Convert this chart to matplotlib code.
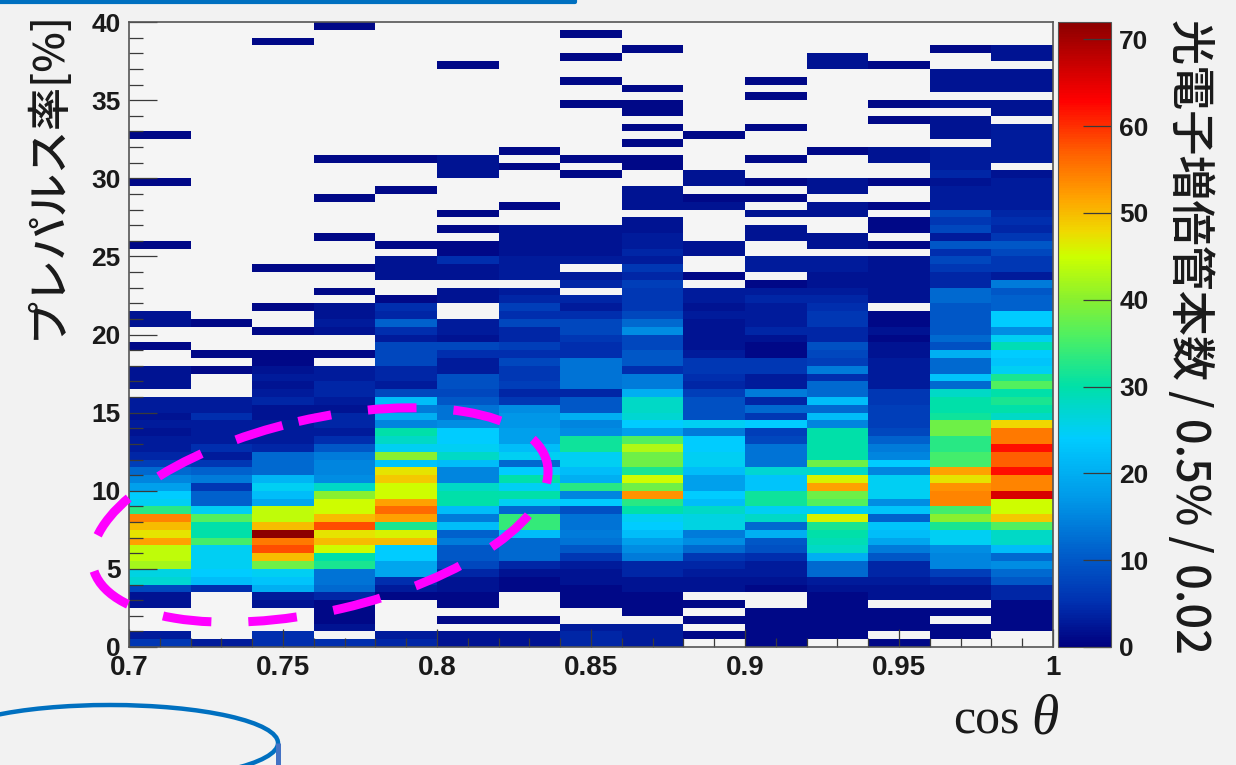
import numpy as np
import matplotlib
matplotlib.use('Agg')
import matplotlib.pyplot as plt
from matplotlib.colors import LinearSegmentedColormap
from matplotlib.patches import Ellipse
from matplotlib.ticker import MultipleLocator

# bin edges of the histogram
x_edges = np.linspace(0.7, 1.0, 16)
y_edges = np.linspace(0, 40, 81)

# counts per cos(theta) column, listed from the top row (40%) down to 0%
col_070 = [0,0,0,0,0,0,0,0,0,0, 0,0,0,0,1,0,0,0,0,0, 1,0,0,0,0,0,0,0,1,0, 0,0,0,0,0,0,0,2,2,0,
           0,1,0,0,2,2,2,0,3,3, 2,3,2,3,3,4,7,12,15,18, 24,25,33,54,50,47,52,44,44,42, 26,27,8,2,2,0,0,0,3,6]
col_072 = [0,0,0,0,0,0,0,0,0,0, 0,0,0,0,0,0,0,0,0,0, 0,0,0,0,0,0,0,0,0,0, 0,0,0,0,0,0,0,0,1,0,
           0,0,1,0,1,0,0,0,3,3, 5,3,3,3,5,3,6,11,14,6, 11,11,25,36,30,30,35,25,25,25, 24,22,5,0,0,0,0,0,0,3]
col_074 = [0,0,1,0,0,0,0,0,0,0, 0,0,0,0,0,0,0,0,0,0, 0,0,0,0,0,0,0,0,0,0, 0,1,0,0,0,0,1,0,0,1,
           0,0,1,1,2,3,2,3,4,2, 2,3,3,3,4,12,12,12,21,25, 22,19,44,44,50,72,55,58,50,38, 25,23,20,3,2,0,0,0,5,5]
col_076 = [1,0,0,0,0,0,0,0,0,0, 0,0,0,0,0,0,0,1,0,0, 0,0,1,0,0,0,0,1,0,0, 0,1,0,0,1,0,2,2,3,2,
           0,0,1,0,3,3,4,4,3,2, 4,4,3,5,10,14,15,15,16,28, 40,45,45,50,58,47,50,45,30,32, 13,13,12,4,1,1,1,2,0,5]
col_078 = [0,0,0,0,0,0,0,0,0,0, 0,0,0,0,0,0,0,1,0,0, 0,1,0,0,0,0,0,0,1,0, 2,2,2,0,0,1,5,4,11,5,
           3,8,8,8,4,4,3,8,22,14, 20,15,30,28,25,40,23,47,49,45, 45,52,56,52,32,46,50,24,24,19, 19,5,3,1,0,0,0,0,3,4]
col_080 = [0,0,0,0,0,1,0,0,0,0, 0,0,0,0,0,0,0,2,2,2, 0,0,0,0,1,0,1,0,1,1, 5,2,2,0,2,2,0,0,3,3,
           2,8,5,3,3,9,9,8,10,13, 13,16,24,24,25,28,22,15,15,28, 30,30,22,14,22,11,14,10,10,8, 4,2,2,1,1,0,1,0,2,2]
col_082 = [0,0,0,0,0,0,0,0,0,0, 0,0,0,0,0,0,1,0,1,0, 0,0,0,1,0,0,2,2,2,2, 3,3,3,0,3,4,7,5,8,4,
           4,7,5,8,6,6,7,4,6,16, 17,17,18,18,22,25,12,24,30,25, 30,25,12,34,34,22,12,12,12,4, 2,1,1,0,0,0,1,0,2,2]
col_084 = [0,1,0,0,1,0,0,1,0,0, 1,0,0,0,0,0,0,1,0,1, 0,0,0,0,0,0,2,2,2,2, 3,0,3,4,0,4,3,5,8,8,
           6,5,5,13,13,13,13,4,10,10, 20,15,16,31,31,25,25,22,20,33, 15,24,9,13,13,14,13,10,6,3, 2,2,1,1,1,0,0,3,4,4]
col_086 = [0,0,0,1,0,0,0,0,1,0, 1,1,0,1,0,1,0,1,1,0, 0,2,2,2,0,2,2,3,3,4, 3,6,4,7,6,6,6,8,12,16,
           8,8,10,10,5,14,14,20,28,28, 27,24,18,36,43,38,38,32,45,38, 53,33,30,25,24,22,18,16,14,4, 4,2,2,1,1,1,0,3,3,3]
col_088 = [0,0,0,0,0,0,0,0,0,0, 0,0,0,0,1,0,0,0,0,2, 2,0,1,2,0,0,0,0,2,2, 0,0,1,0,3,3,2,3,2,2,
           2,2,3,6,6,5,4,7,9,9, 9,25,14,24,24,25,25,22,18,18, 24,22,28,26,26,14,16,12,6,4, 3,2,2,0,1,0,1,0,1,0]
col_090 = [0,0,0,0,0,0,0,1,0,1, 0,0,0,1,0,0,0,1,0,0, 1,0,1,0,2,0,2,2,0,0, 3,3,0,1,3,4,3,3,3,4,
           2,1,1,6,6,3,3,14,4,12, 6,24,7,8,13,13,13,27,23,23, 31,31,25,28,12,20,10,9,5,3, 3,2,1,0,0,1,1,1,1,1]
col_092 = [0,0,0,0,2,2,0,0,0,0, 0,0,0,0,0,0,1,0,0,0, 2,2,0,2,2,0,0,2,2,0, 3,3,2,2,3,4,5,6,6,4,
           4,9,8,7,14,5,12,12,22,12, 22,15,30,30,30,30,38,28,46,52, 38,36,25,46,32,30,29,28,20,12, 12,3,2,1,1,1,1,1,1,0]
col_094 = [0,0,0,0,0,1,0,0,0,0, 1,0,1,0,0,0,2,2,0,0, 1,0,0,1,0,1,1,0,1,0, 2,2,2,2,2,2,0,1,1,2,
           1,2,2,3,3,3,3,6,6,7, 7,7,8,11,14,15,24,15,25,25, 25,16,23,11,23,22,19,14,10,4, 4,3,2,2,0,1,1,1,0,1]
col_096 = [0,0,0,1,0,0,2,2,2,0, 2,0,2,2,2,0,3,3,3,4, 2,3,3,3,8,6,8,3,10,5, 8,6,4,4,12,12,10,10,10,10,
           12,9,20,12,12,23,12,28,30,30, 31,38,38,33,33,35,35,52,47,53, 54,54,35,40,32,25,25,16,15,15, 7,4,2,2,0,1,0,1,1,0]
col_098 = [0,0,0,2,2,0,2,2,2,0, 2,2,0,3,3,3,3,3,0,2, 3,3,3,3,4,5,4,6,10,8, 6,6,3,14,10,11,11,24,24,16,
           25,29,24,23,25,32,36,30,32,30, 28,48,55,55,62,57,57,62,54,54, 66,45,45,49,36,28,28,22,12,16, 12,10,4,4,1,1,1,1,0,0]

columns = [col_070, col_072, col_074, col_076, col_078, col_080, col_082, col_084,
           col_086, col_088, col_090, col_092, col_094, col_096, col_098]

x_ticks = [0.7, 0.75, 0.8, 0.85, 0.9, 0.95, 1.0]
x_tick_labels = ['0.7', '0.75', '0.8', '0.85', '0.9', '0.95', '1']
y_ticks = [0, 5, 10, 15, 20, 25, 30, 35, 40]
z_ticks = [0, 10, 20, 30, 40, 50, 60, 70]

W, H = 1236, 765
BG = '#f2f2f2'
DARK = '#3a3a3a'
INK = '#1a1a1a'
plt.rcParams['font.family'] = ['Liberation Sans', 'DejaVu Sans']
plt.rcParams['font.weight'] = 'bold'
jp_font = ['Noto Sans CJK JP', 'DejaVu Sans']

# root style rainbow palette
vmax = 72
stops = [(0, '#00007f'), (5, '#0030b0'), (10, '#0058c8'), (17, '#0098e8'), (24, '#00ccff'),
         (30, '#00e0a8'), (36, '#50f060'), (40, '#88f030'), (45, '#ccff00'), (48, '#f0d800'),
         (52, '#ffa000'), (57, '#ff6000'), (63, '#ff0000'), (72, '#8c0000')]
cmap = LinearSegmentedColormap.from_list('root', [(v / vmax, c) for v, c in stops])

fig = plt.figure(figsize=(W / 100, H / 100), dpi=100, facecolor=BG)


def px_axes(left, top, right, bottom):
    return fig.add_axes([left / W, 1 - bottom / H, (right - left) / W, (bottom - top) / H])


ax = px_axes(129, 22, 1053, 647)
ax.set_facecolor('#f5f5f5')
z = np.array(columns, dtype=float).T[::-1]
mesh = ax.pcolormesh(x_edges, y_edges, np.ma.masked_equal(z, 0), cmap=cmap, vmin=0, vmax=vmax)
ax.set_xlim(0.7, 1.0)
ax.set_ylim(0, 40)
ax.set_xticks(x_ticks)
ax.set_xticklabels(x_tick_labels)
ax.set_yticks(y_ticks)
ax.xaxis.set_minor_locator(MultipleLocator(0.01))
ax.yaxis.set_minor_locator(MultipleLocator(1))
ax.tick_params(axis='x', which='major', direction='in', length=13, width=0.9, color=DARK, labelsize=20, pad=6, labelcolor=INK)
ax.tick_params(axis='x', which='minor', direction='in', length=6.5, width=0.9, color=DARK)
ax.tick_params(axis='y', which='major', direction='in', length=20, width=0.9, color=DARK, labelsize=19, pad=6, labelcolor=INK)
ax.tick_params(axis='y', which='minor', direction='in', length=10, width=0.9, color=DARK)
for s in ax.spines.values():
    s.set_color('#555555')
    s.set_linewidth(1.2)

cax = px_axes(1058, 22, 1111, 647)
cb = fig.colorbar(mesh, cax=cax, ticks=z_ticks)
cb.outline.set_edgecolor('#555555')
cax.tick_params(axis='y', which='major', direction='in', length=20, width=0.9, color=DARK, labelsize=19, pad=6, labelcolor=INK)

fig.text(47 / W, 1 - 174 / H, 'プレパルス率[%]', family=jp_font, weight='medium', fontsize=31,
         rotation=90, ha='center', va='center', color=INK)
fig.text(1189 / W, 1 - 336 / H, '光電子増倍管本数 / 0.5% / 0.02', family=jp_font, weight='medium', fontsize=32.5,
         rotation=270, ha='center', va='center', color=INK)
fig.text(953 / W, 1 - 733 / H, 'cos', family='Liberation Serif', weight='normal', fontsize=36,
         ha='left', va='baseline', color=INK)
fig.text(1031 / W, 1 - 733 / H, 'θ', family='Liberation Serif', weight='normal', style='italic', fontsize=40,
         ha='left', va='baseline', color=INK)

# shapes drawn on top of the slide, in pixel coordinates
over = fig.add_axes([0, 0, 1, 1], facecolor='none')
over.set_xlim(0, W)
over.set_ylim(H, 0)
over.axis('off')
over.add_patch(Ellipse((320, 515), 466, 192, angle=-13, fill=False, edgecolor='#ff00ff', lw=6.5,
                       linestyle=(1.7, (5.4, 4.1))))
over.add_patch(Ellipse((110, 743), 336, 76, fill=False, edgecolor='#0070c0', lw=3.2))
over.plot([278, 278], [743, 765], color='#4472c4', lw=3.6, solid_capstyle='butt')
over.plot([0, 575, 575], [2, 2, -3], color='#0070c0', lw=3)

fig.savefig('out.png', dpi=100, facecolor=BG)
